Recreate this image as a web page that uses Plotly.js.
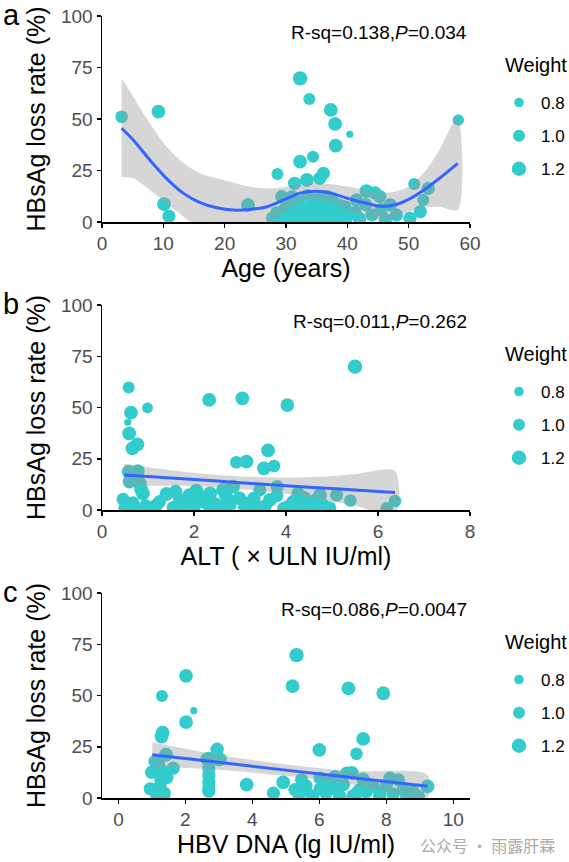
<!DOCTYPE html>
<html><head><meta charset="utf-8">
<script src="https://cdn.plot.ly/plotly-3.0.1.min.js"></script>
<style>html,body{margin:0;padding:0;background:#fff}#chart{width:569px;height:862px}</style>
</head><body><div id="chart"></div>
<script>
// ---------- Panel a: Age ----------
const ageX=[3.2,9.2,10.1,10.9,32.3,33.8,37.3,38.0,40.4,38.1,58.1,34.4,32.3,28.6,36.1,35.5,33.4,31.4,23.8,29.3,43.1,44.5,45.3,50.9,53.2,52.4,51.9,50.2,47.0,48.0,41.5,40.4,37.5,38.5,39.6,41.3,
  27.8,28.5,29.2,29.8,30.3,30.8,31.2,31.7,32.0,32.5,33.0,33.3,33.8,34.2,34.6,35.0,35.3,35.7,36.2,36.6,37.0,37.4,37.8,38.3,38.8,39.2,40.0,42.0,43.0,44.0,45.5,46.2,30.5,32.8,35.5,28.2,36.8,33.5,31.0,34.0,36.0,30.0,38.0,39.5];
const ageY=[51.1,53.6,8.7,2.9,69.7,59.7,54.4,47.6,42.6,37.1,49.5,31.7,29.3,23.3,23.6,21.2,20.4,18.8,8.3,12.3,15.0,14.2,12.3,18.4,16.3,10.7,5.0,1.8,8.3,3.4,10.7,4.2,10.7,4.4,7.4,5.0,
  2.0,4.5,1.0,6.5,3.0,8.0,1.5,5.0,10.0,2.5,6.8,0.8,4.0,8.5,1.8,5.5,11.5,2.8,7.0,0.8,4.2,1.5,6.5,2.0,8.0,1.0,2.5,1.5,8.5,3.5,6.0,1.2,0.5,0.5,0.5,0.3,12.5,13.0,12.5,3.0,4.0,3.5,9.0,4.5];
const ageW=[1.05,1.15,1.15,1.1,1.2,1.0,1.15,1.15,0.6,1.15,0.95,1.0,1.15,1.0,1.1,1.1,1.15,1.1,1.15,1.1,1.15,1.1,1.1,1.0,1.1,1.0,1.1,1.1,1.1,1.1,1.1,1.1,1.1,1.1,1.1,1.05,
  1.1,1.1,1.15,1.1,1.15,1.1,1.15,1.1,1.1,1.15,1.1,1.15,1.1,1.1,1.15,1.1,1.05,1.15,1.1,1.15,1.1,1.15,1.1,1.15,1.1,1.15,1.1,1.1,1.1,1.1,1.1,1.1,1.15,1.15,1.15,1.1,1.05,1.05,1.05,1.15,1.15,1.15,1.1,1.1];
const ageFitX=[3.2,5.1,7.8,10.5,13.3,16.0,18.7,21.4,24.1,26.9,29.6,32.3,35,37.5,40,42.5,45,47.5,50,52.5,55,58];
const ageFitY=[45.5,39.8,30.1,21.2,13.9,9.4,6.9,5.8,6.1,7.4,10.7,14.0,14.9,13.9,11.5,9.5,7.8,8.1,11.0,15.5,21.2,28.5];
const ageUp=[69.7,60.8,47.9,36.6,28.5,23.6,21.2,19.1,17.1,16.3,16.8,18.0,19.1,18.3,17.2,15.8,14.2,14.6,17.2,24.0,35.0,51.1];
const ageLo=[22.0,21.2,15.5,9.1,2.6,-3.0,-6.0,-6.0,-4.0,-1.5,4.6,10.0,10.7,9.5,5.8,3.2,1.4,1.6,4.8,7.0,7.4,5.9];

// ---------- Panel b: ALT ----------
const altX=[5.50,0.58,2.33,3.05,4.03,0.99,0.63,0.56,0.59,0.77,0.66,3.61,2.92,3.14,3.52,3.74,0.58,0.78,0.60,0.82,0.89,0.46,0.67,1.25,1.60,1.90,2.10,2.35,2.63,2.85,2.99,2.78,3.36,3.43,3.65,3.81,4.05,4.15,4.26,4.52,4.74,4.81,5.10,5.40,6.37,6.19,1.69,1.40,2.27,3.21,1.18,
  0.50,0.70,0.95,1.75,2.00,2.20,2.45,2.55,3.30,3.55,3.95,4.40,4.65,4.95,1.55,1.85,2.70,3.10,4.30,0.85,1.05,2.05,2.40,3.80,4.60];
const altY=[69.9,59.8,53.7,54.5,51.2,49.8,47.5,42.8,37.4,32.0,30.1,29.1,23.3,23.6,20.3,21.5,18.7,19.0,13.8,13.0,8.1,5.2,3.3,4.1,8.9,7.3,4.9,8.1,9.8,11.4,5.7,2.4,1.6,9.8,4.9,11.4,1.6,4.1,8.1,2.4,7.3,2.4,7.3,4.6,4.4,0.8,4.9,7.8,3.3,3.3,2.4,
  1.0,0.8,2.0,2.5,1.5,6.0,3.0,1.0,5.5,2.0,0.8,6.0,5.0,1.0,1.2,3.5,6.5,1.5,0.8,10.0,1.0,9.5,1.2,7.0,1.5];
const altW=[1.2,1.0,1.15,1.15,1.15,0.9,1.15,0.6,1.15,1.15,1.15,1.15,1.05,1.15,1.15,1.05,1.15,1.15,1.15,1.15,1.15,1.1,1.15,1.1,1.15,1.15,1.15,1.15,1.15,1.15,1.15,1.1,1.15,1.1,1.15,1.1,1.1,1.1,1.1,1.15,1.15,1.1,1.1,1.05,1.05,1.05,1.15,1.15,1.15,1.15,1.1,
  1.1,1.1,1.1,1.15,1.15,1.15,1.15,1.15,1.15,1.1,1.1,1.1,1.1,1.1,1.1,1.15,1.15,1.1,1.1,1.15,1.1,1.15,1.15,1.1,1.1];
const altFitX=[0.48,1.5,2.5,3.5,4.5,5.5,6.37];
const altFitY=[17.1,15.6,14.1,12.6,11.1,9.8,8.5];
const altUp=[22.4,19.4,17.1,16.0,16.0,17.5,19.0];
const altLo=[11.6,11.8,11.1,9.3,6.4,2.1,-2.0];

// ---------- Panel c: HBV DNA ----------
const dnaX=[5.32,2.02,5.20,6.87,7.91,1.30,2.25,2.02,1.32,1.29,7.31,6.00,2.94,7.11,1.42,2.64,3.01,1.09,1.64,0.99,1.32,0.95,1.27,1.37,3.83,4.92,5.47,5.27,5.57,6.02,6.02,6.47,6.40,6.82,6.97,6.72,7.31,7.61,8.11,8.36,8.51,8.96,9.23,7.81,7.11,4.63,
  2.70,2.70,2.70,2.70,2.70,2.70,2.95,3.04,1.20,1.45,1.15,5.40,5.80,6.20,6.60,7.00,7.40,7.80,8.20,8.60,5.60,6.30,7.20,8.00,8.80,1.25,1.35];
const dnaY=[69.7,59.6,54.6,53.5,51.1,49.8,42.6,37.0,31.9,30.0,28.8,23.5,23.5,21.6,21.1,19.0,18.6,17.8,14.6,12.5,13.0,4.5,8.9,2.4,6.5,7.6,8.9,4.1,4.1,9.7,4.4,10.5,4.9,12.2,12.2,6.5,9.2,5.7,9.7,8.9,4.1,0.8,5.7,2.4,2.4,2.4,
  19.4,14.6,11.2,7.8,4.9,3.3,23.8,18.9,16.5,10.0,1.0,1.5,1.0,2.5,1.2,1.0,3.0,1.0,2.0,1.5,6.0,7.5,4.0,6.5,3.0,6.0,1.0];
const dnaW=[1.2,1.15,1.15,1.15,1.15,1.0,0.6,1.15,1.15,1.15,1.15,1.15,1.05,1.05,1.15,1.1,1.1,1.1,1.1,1.1,1.1,1.1,1.1,1.1,1.15,1.15,1.1,1.1,1.1,1.1,1.1,1.1,1.1,1.1,1.15,1.1,1.1,1.1,1.1,1.1,1.1,1.1,1.15,1.1,1.1,1.1,
  1.1,1.1,1.1,1.1,1.1,1.1,1.1,1.1,1.1,1.1,1.1,1.1,1.1,1.1,1.1,1.1,1.1,1.1,1.1,1.1,1.1,1.1,1.1,1.1,1.1,1.1,1.1];
const dnaFitX=[1.01,3,5,7,9.23];
const dnaFitY=[21.1,17.4,13.6,9.9,5.7];
const dnaUp=[27.2,21.0,16.4,13.2,11.3];
const dnaLo=[15.4,13.8,10.8,6.6,0.5];

// ---------- Labels ----------
const panelLetters=['a','b','c'];
const statTexts=['R-sq=0.138,<i>P</i>=0.034','R-sq=0.011,<i>P</i>=0.262','R-sq=0.086,<i>P</i>=0.0047'];
const xTitles=['Age (years)','ALT ( × ULN IU/ml)','HBV DNA (lg IU/ml)'];
const yTitle='HBsAg loss rate (%)';
const legendTitle='Weight';
const legendWeights=[0.8,1.0,1.2];
const legendLabels=['0.8','1.0','1.2'];
const watermark='公众号 · 雨露肝霖';

// ---------- Styling ----------
const W=569,H=862,L=102,R=470;
const TEAL='#33CCCC', BLUE='#3366FF';
const FONT='"Liberation Sans", Arial, sans-serif';
const sz=w=>12+(w-1)*12;
const px=x=>(x-L)/(R-L);
const py=y=>1-y/H;
const panels=[
  {x:ageX,y:ageY,w:ageW,fx:ageFitX,fy:ageFitY,up:ageUp,lo:ageLo,top:16,bot:222,range:[0,60],dtick:10},
  {x:altX,y:altY,w:altW,fx:altFitX,fy:altFitY,up:altUp,lo:altLo,top:305,bot:510,range:[0,8],dtick:2},
  {x:dnaX,y:dnaY,w:dnaW,fx:dnaFitX,fy:dnaFitY,up:dnaUp,lo:dnaLo,top:593,bot:798,range:[-0.49,10.5],dtick:2}
];
const traces=[];
const layout={width:W,height:H,margin:{l:L,r:W-R,t:0,b:0,autoexpand:false},
  paper_bgcolor:'#fff',plot_bgcolor:'#fff',font:{family:FONT,color:'#000'},annotations:[],showlegend:true};
panels.forEach((p,i)=>{
  const n=i===0?'':String(i+1);
  const xa='x'+n, ya='y'+n;
  const lg='legend'+n;
  traces.push({type:'scatter',mode:'markers',x:p.x,y:p.y,xaxis:xa,yaxis:ya,showlegend:false,hoverinfo:'skip',
    marker:{color:TEAL,size:p.w.map(sz),line:{width:0},opacity:1},cliponaxis:true});
  traces.push({type:'scatter',mode:'lines',x:p.fx.concat(p.fx.slice().reverse()),y:p.up.concat(p.lo.slice().reverse()),
    xaxis:xa,yaxis:ya,fill:'toself',fillcolor:'rgba(153,153,153,0.4)',
    line:{width:0,color:'rgba(0,0,0,0)',shape:'spline',smoothing:0.8},showlegend:false,hoverinfo:'skip'});
  traces.push({type:'scatter',mode:'lines',x:p.fx,y:p.fy,xaxis:xa,yaxis:ya,line:{color:BLUE,width:3,shape:'spline',smoothing:0.8},
    showlegend:false,hoverinfo:'skip'});
  legendWeights.forEach((w,k)=>{
    traces.push({type:'scatter',mode:'markers',x:[null],y:[null],xaxis:xa,yaxis:ya,name:legendLabels[k],
      legend:lg,legendgroup:lg+'g'+k,showlegend:true,marker:{color:TEAL,size:sz(w),line:{width:0}}});
  });
  const axBase={showline:true,linecolor:'#000',linewidth:1.5,ticks:'outside',ticklen:4,tickwidth:1.5,tickcolor:'#000',
    showgrid:false,zeroline:false,tickfont:{family:FONT,size:19,color:'#4D4D4D'},fixedrange:true};
  layout['xaxis'+n]=Object.assign({},axBase,{domain:[0,1],anchor:ya,range:p.range,tick0:0,dtick:p.dtick,
    title:{text:xTitles[i],font:{family:FONT,size:25,color:'#000'},standoff:6}});
  layout['yaxis'+n]=Object.assign({},axBase,{domain:[py(p.bot),py(p.top)],anchor:xa,range:[0,100],tick0:0,dtick:25,
    title:{text:yTitle,font:{family:FONT,size:25,color:'#000'},standoff:8}});
  layout[lg]={x:px(497),xanchor:'left',y:py(p.top+69),yanchor:'top',bgcolor:'rgba(0,0,0,0)',
    font:{family:FONT,size:17,color:'#000'},itemwidth:34,
    tracegroupgap:8,itemsizing:'trace',traceorder:'grouped'};
  layout.annotations.push({xref:'paper',yref:'paper',x:px(503),y:py(p.top+49),xanchor:'left',yanchor:'middle',
    text:legendTitle,showarrow:false,font:{family:FONT,size:20,color:'#000'}});
  layout.annotations.push({xref:'paper',yref:'paper',x:px(1),y:py(p.top-1),xanchor:'left',yanchor:'middle',
    text:panelLetters[i],showarrow:false,font:{family:FONT,size:29,color:'#000'}});
  layout.annotations.push({xref:'paper',yref:'paper',x:px(469),y:py(p.top+16),xanchor:'right',yanchor:'middle',
    text:statTexts[i],showarrow:false,font:{family:FONT,size:19,color:'#000'}});
});
layout.annotations.push({xref:'paper',yref:'paper',x:px(487),y:py(831),xanchor:'center',yanchor:'top',
  text:watermark,showarrow:false,font:{family:'"Noto Sans CJK SC", sans-serif',size:16,color:'#aaaaaa'}});
Plotly.newPlot('chart',traces,layout,{staticPlot:true,displayModeBar:false});
</script></body></html>
